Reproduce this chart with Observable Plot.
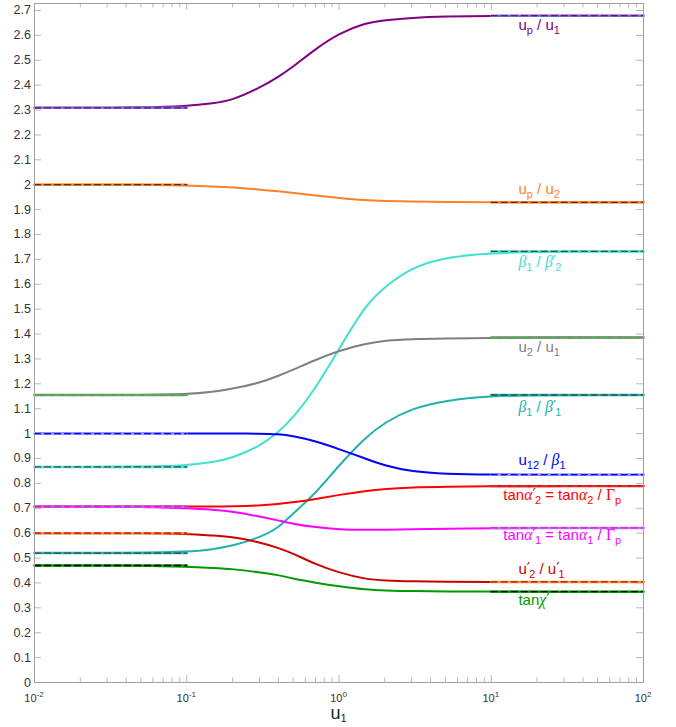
<!DOCTYPE html>
<html>
<head>
<meta charset="utf-8">
<script src="https://cdn.jsdelivr.net/npm/d3@7"></script>
<script src="https://cdn.jsdelivr.net/npm/@observablehq/plot@0.6"></script>
<style>
  html, body { margin: 0; padding: 0; background: #fff; }
  #chart svg { display: block; }
</style>
</head>
<body>
<div id="chart"></div>
<script>
// ---- data ----
const u1 = [0.01, 0.02, 0.05, 0.1, 0.15, 0.2, 0.3, 0.4, 0.5, 0.7, 1, 1.5, 2, 3, 5, 10, 20, 50, 100];

const upU1   = [2.309, 2.309, 2.31, 2.315, 2.327, 2.34, 2.389, 2.433, 2.474, 2.545, 2.608, 2.651, 2.661, 2.671, 2.676, 2.678, 2.679, 2.679, 2.679];
const upU2   = [2.0, 2.0, 2.0, 1.997, 1.993, 1.989, 1.981, 1.974, 1.967, 1.956, 1.946, 1.937, 1.935, 1.932, 1.930, 1.929, 1.929, 1.929, 1.929];
const b1b2p  = [0.866, 0.866, 0.867, 0.872, 0.885, 0.902, 0.948, 1.005, 1.063, 1.18, 1.34, 1.519, 1.59, 1.668, 1.709, 1.725, 1.730, 1.732, 1.732];
const u2U1   = [1.155, 1.155, 1.155, 1.158, 1.168, 1.18, 1.203, 1.232, 1.257, 1.296, 1.334, 1.361, 1.374, 1.380, 1.382, 1.384, 1.386, 1.386, 1.386];
const b1b1p  = [0.52, 0.52, 0.521, 0.525, 0.535, 0.549, 0.582, 0.620, 0.68, 0.758, 0.873, 0.987, 1.045, 1.101, 1.134, 1.151, 1.154, 1.155, 1.155];
const u12b1  = [1, 1, 1, 1, 1, 1, 1, 0.998, 0.99, 0.97, 0.938, 0.899, 0.871, 0.847, 0.838, 0.835, 0.835, 0.835, 0.835];
const tanA2  = [0.707, 0.707, 0.707, 0.707, 0.707, 0.708, 0.711, 0.717, 0.724, 0.737, 0.754, 0.770, 0.778, 0.784, 0.787, 0.788, 0.789, 0.789, 0.789];
const tanA1  = [0.707, 0.707, 0.706, 0.700, 0.694, 0.687, 0.667, 0.651, 0.637, 0.624, 0.615, 0.613, 0.614, 0.615, 0.618, 0.620, 0.621, 0.621, 0.621];
const u2pU1p = [0.6, 0.6, 0.6, 0.598, 0.590, 0.585, 0.564, 0.541, 0.518, 0.475, 0.441, 0.415, 0.409, 0.406, 0.405, 0.404, 0.404, 0.404, 0.404];
const tanChi = [0.47, 0.47, 0.47, 0.465, 0.460, 0.456, 0.443, 0.432, 0.417, 0.401, 0.386, 0.373, 0.370, 0.367, 0.366, 0.365, 0.365, 0.365, 0.365];

// asymptotic limits (dashed reference lines)
const limitLow  = [2.309, 2.0, 0.866, 1.155, 0.52, 1.0, 0.707, 0.707, 0.6, 0.47];
const limitHigh = [2.679, 1.929, 1.732, 1.386, 1.155, 0.835, 0.789, 0.621, 0.404, 0.365];
const lowRange  = [0.01, 0.1];
const highRange = [10, 100];

const seriesValues = [upU1, upU2, b1b2p, u2U1, b1b1p, u12b1, tanA2, tanA1, u2pU1p, tanChi];
const seriesColors = ["#800080", "#ff7f27", "#40e0d0", "#808080", "#20b2aa", "#0000ff", "#ff0000", "#ff00ff", "#cc0000", "#009a00"];
const limitUnder   = ["#6a7fd8", "#ff7f27", "#40e0d0", "#808080", "#20b2aa", "#a0a0ff", "#ff0000", "#b07cf0", "#f29a30", "#00a000"];
const limitDash    = ["#800080", "#5a3010", "#2f4f4f", "#3ec43e", "#2f4f4f", "#0000ff", "#a05050", "#ff00ff", "#cc0000", "#000000"];

// labels
const labelParts = [
  [["u",""],["p","s"],[" / u",""],["1","s"]],
  [["u",""],["p","s"],[" / u",""],["2","s"]],
  [["β","g"],["1","s"],[" / ",""],["β","g"],["′","p"],["2","s"]],
  [["u",""],["2","s"],[" / u",""],["1","s"]],
  [["β","g"],["1","s"],[" / ",""],["β","g"],["′","p"],["1","s"]],
  [["u",""],["12","s"],[" / ",""],["β","g"],["1","s"]],
  [["tan",""],["α","g"],["′","p"],["2","s"],[" = tan",""],["α","g"],["2","s"],[" / ",""],["Γ","G"],["p","s"]],
  [["tan",""],["α","g"],["′","p"],["1","s"],[" = tan",""],["α","g"],["1","s"],[" / ",""],["Γ","G"],["p","s"]],
  [["u",""],["′","p"],["2","s"],[" / u",""],["′","p"],["1","s"]],
  [["tan",""],["χ","g"],["′","p"]]
];
const labelX = [15.2, 15.2, 15.2, 15.2, 15.2, 15.2, 12.1, 12.1, 15.2, 15.2];
const labelY = [2.618, 1.960, 1.669, 1.327, 1.086, 0.872, 0.731, 0.570, 0.434, 0.309];

const yTicks = [0, 0.1, 0.2, 0.3, 0.4, 0.5, 0.6, 0.7, 0.8, 0.9, 1, 1.1, 1.2, 1.3, 1.4, 1.5, 1.6, 1.7, 1.8, 1.9, 2, 2.1, 2.2, 2.3, 2.4, 2.5, 2.6, 2.7];
const xMajor = [0.01, 0.1, 1, 10, 100];
const xExponents = ["-2", "-1", "0", "1", "2"];
const xMinorMult = [2, 3, 4, 5, 6, 7, 8, 9];
const xMinor = xMajor.slice(0, 4).flatMap(d => xMinorMult.map(m => d * m));

// ---- layout ----
const W = 676, H = 727;
const mL = 34, mR = 33, mT = 3, mB = 45;
const innerW = W - mL - mR, innerH = H - mT - mB;
const tickCol = "#b8b8b8";

const marks = [
  Plot.tickY(yTicks, {y: d => d, stroke: tickCol, insetRight: innerW - 7}),
  Plot.tickY(yTicks, {y: d => d, stroke: tickCol, insetLeft: innerW - 7}),
  Plot.tickX(xMajor, {x: d => d, stroke: tickCol, insetTop: innerH - 7}),
  Plot.tickX(xMajor, {x: d => d, stroke: tickCol, insetBottom: innerH - 7}),
  Plot.tickX(xMinor, {x: d => d, stroke: tickCol, insetTop: innerH - 4.5}),
  Plot.tickX(xMinor, {x: d => d, stroke: tickCol, insetBottom: innerH - 4.5}),
  Plot.axisY(yTicks, {tickSize: 0, tickPadding: 3.5, tickFormat: d => String(d), label: null, fontSize: 12.5, fill: "#333"}),
];

seriesValues.forEach((vals, i) => {
  const pts = u1.map((u, j) => ({u, v: vals[j]}));
  marks.push(Plot.line(pts, {x: "u", y: "v", stroke: seriesColors[i], strokeWidth: 2, curve: "basis"}));
});
seriesValues.forEach((vals, i) => {
  const lo = lowRange.map(u => ({u, v: limitLow[i]}));
  const hi = highRange.map(u => ({u, v: limitHigh[i]}));
  for (const seg of [lo, hi]) {
    marks.push(Plot.line(seg, {x: "u", y: "v", stroke: limitUnder[i], strokeWidth: 2.4}));
    marks.push(Plot.line(seg, {x: "u", y: "v", stroke: limitDash[i], strokeWidth: 1.3, strokeDasharray: "6,4"}));
  }
});
marks.push(Plot.frame({stroke: "#a0a0a0"}));

const plot = Plot.plot({
  width: W, height: H,
  marginLeft: mL, marginRight: mR, marginTop: mT, marginBottom: mB,
  x: {type: "log", domain: [0.01, 100], axis: null},
  y: {domain: [0, 2.728], axis: null},
  style: {fontFamily: "'Liberation Sans', Arial, Helvetica, sans-serif", fontSize: "12.5px", background: "#fff", color: "#333"},
  marks
});
document.getElementById("chart").appendChild(plot);

// ---- rich text (subscripts, greek) positioned through Plot's scales ----
const sx = plot.scale("x"), sy = plot.scale("y");
const svg = d3.select(plot);
const g = svg.append("g")
  .attr("font-family", "'Liberation Sans', Arial, Helvetica, sans-serif")
  .attr("text-anchor", "start");

function richText(sel, parts, size, subSize, subShift) {
  let shift = 0, prevKind = null;
  parts.forEach(([txt, kind]) => {
    const t = sel.append("tspan").text(txt);
    let target = 0;
    if (kind === "s") { t.attr("font-size", subSize); target = subShift; if (prevKind === "p") t.attr("dx", -1); }
    else if (kind === "g") { t.attr("font-family", "'Liberation Serif', 'DejaVu Serif', serif").attr("font-style", "italic").attr("font-size", size * 1.05); }
    else if (kind === "G") { t.attr("font-family", "'Liberation Serif', 'DejaVu Serif', serif").attr("font-size", size * 1.05); }
    else if (kind === "p") { t.attr("font-family", "'DejaVu Sans', sans-serif").attr("font-size", size); }
    else { t.attr("font-size", size); }
    if (target !== shift) { t.attr("dy", target - shift); shift = target; }
    prevKind = kind;
  });
}

labelParts.forEach((parts, i) => {
  const t = g.append("text")
    .attr("x", sx.apply(labelX[i]))
    .attr("y", sy.apply(labelY[i]))
    .attr("fill", seriesColors[i])
    .attr("text-anchor", "start")
    .style("white-space", "pre");
  richText(t, parts, 15, 11, 4);
});

// x tick labels 10^k
xMajor.forEach((d, i) => {
  const t = g.append("text")
    .attr("x", sx.apply(d))
    .attr("y", 702)
    .attr("text-anchor", "middle")
    .attr("fill", "#333")
    .style("white-space", "pre");
  t.append("tspan").attr("font-size", 11).text("10");
  t.append("tspan").attr("font-size", 8).attr("dy", -5).text(xExponents[i]);
});

// x axis title
const at = g.append("text")
  .attr("x", sx.apply(1))
  .attr("y", 719)
  .attr("text-anchor", "middle")
  .attr("fill", "#222")
  .style("white-space", "pre");
richText(at, [["u",""],["1","s"]], 18, 11, 2.5);
</script>
</body>
</html>
